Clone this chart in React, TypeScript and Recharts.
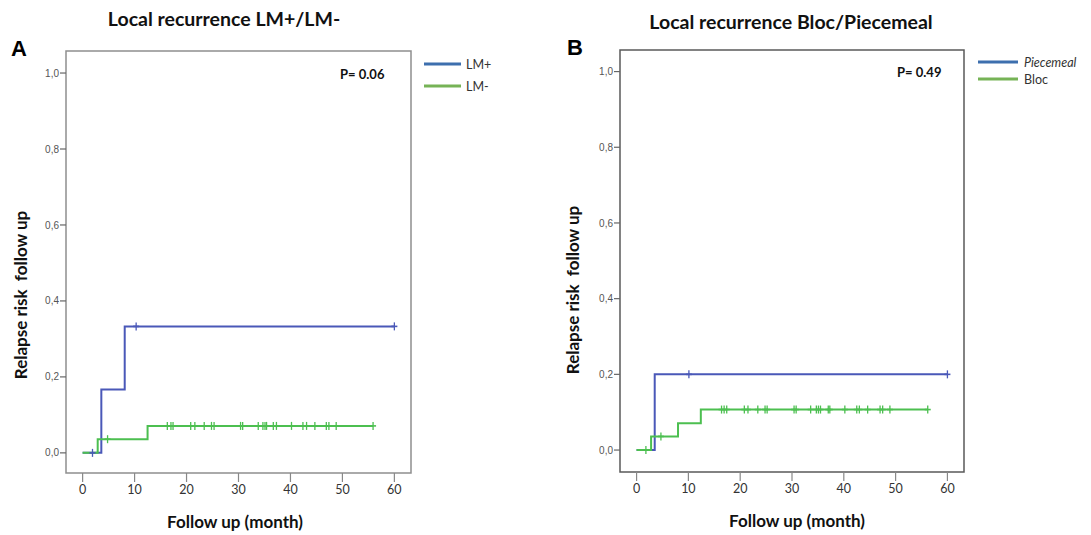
import React from "react";
import {
  ComposedChart,
  Line,
  Scatter,
  XAxis,
  YAxis,
  ReferenceArea,
} from "recharts";

// ---------- Panel A data ----------
const lmPlusTimes = [0, 3.6, 8.1, 60];
const lmPlusRisk = [0, 0.167, 0.333, 0.333];
const lmPlusCensor = [1.9, 10.3, 60];

const lmMinusTimes = [0, 2.9, 12.5, 55.9];
const lmMinusRisk = [0, 0.036, 0.071, 0.071];
const lmMinusCensor = [
  4.8, 16.3, 17.0, 17.4, 20.8, 21.6, 23.4, 24.8, 25.3, 30.4, 30.8, 33.8, 34.7,
  35.1, 35.4, 36.7, 37.3, 40.2, 42.4, 43.1, 44.7, 46.9, 47.4, 48.8, 55.9,
];

// ---------- Panel B data ----------
const piecemealTimes = [0, 3.5, 60];
const piecemealRisk = [0, 0.2, 0.2];
const piecemealCensor = [10.1, 60];

const blocTimes = [0, 2.8, 8.0, 12.4, 56.2];
const blocRisk = [0, 0.036, 0.071, 0.107, 0.107];
const blocCensor = [
  1.8, 4.7, 16.4, 16.9, 17.4, 20.8, 21.5, 23.4, 24.8, 25.2, 30.4, 30.8, 33.6,
  34.7, 35.1, 35.5, 37.0, 37.3, 40.2, 42.5, 43.0, 44.6, 47.0, 47.5, 48.9, 56.2,
];

// ---------- Axis ticks ----------
const xTicks = [0, 10, 20, 30, 40, 50, 60];
const yTicks = [0, 0.2, 0.4, 0.6, 0.8, 1.0];
const yTickLabels = ["0,0", "0,2", "0,4", "0,6", "0,8", "1,0"];

// ---------- Texts ----------
const titleA = "Local recurrence LM+/LM-";
const titleB = "Local recurrence Bloc/Piecemeal";
const pA = "P= 0.06";
const pB = "P= 0.49";
const legendA = ["LM+", "LM-"];
const legendB = ["Piecemeal", "Bloc"];
const yLabel = "Relapse risk\u00a0 follow up";
const xLabel = "Follow up (month)";

const FONT = "Lato, 'Open Sans', sans-serif";
const BLUE = "#4a58b8";
const GREEN = "#4cbf50";
const LEG_BLUE = "#3d6fae";
const LEG_GREEN = "#76b356";

function toSeries(times: number[], risks: number[]) {
  return times.map((t, i) => ({ t, r: risks[i] }));
}

function stepValue(times: number[], risks: number[], t: number) {
  let v = risks[0];
  for (let i = 0; i < times.length; i++) {
    if (times[i] <= t) v = risks[i];
  }
  return v;
}

function toCensor(censor: number[], times: number[], risks: number[]) {
  return censor.map((t) => ({ t, r: stepValue(times, risks, t) }));
}

const makePlus = (color: string) => (props: any) => {
  const { cx, cy } = props;
  if (cx == null || cy == null) return <g />;
  return (
    <g>
      <line x1={cx} y1={cy - 4} x2={cx} y2={cy + 4} stroke={color} strokeWidth={1.3} />
      <line x1={cx - 3} y1={cy} x2={cx + 3} y2={cy} stroke={color} strokeWidth={1.6} />
    </g>
  );
};

type PanelProps = {
  left: number;
  width: number;
  margin: { top: number; right: number; bottom: number; left: number };
  yDomain: [number, number];
  frameColor: string;
  series: {
    times: number[];
    risks: number[];
    censor: number[];
    color: string;
  }[];
};

const X_DOMAIN: [number, number] = [-3.2, 63.2];

function Panel({ left, width, margin, yDomain, frameColor, series }: PanelProps) {
  return (
    <div style={{ position: "absolute", left, top: 0 }}>
      <ComposedChart width={width} height={535} margin={margin}>
        <XAxis
          type="number"
          dataKey="t"
          domain={X_DOMAIN}
          ticks={xTicks}
          allowDataOverflow
          axisLine={false}
          tickLine={{ stroke: "#888", strokeWidth: 1.2 }}
          tickSize={9}
          tickMargin={3}
          height={30}
          tick={{ fill: "#333", fontSize: 12.5, fontFamily: FONT }}
          interval={0}
        />
        <YAxis
          type="number"
          dataKey="r"
          domain={yDomain}
          ticks={yTicks}
          allowDataOverflow
          axisLine={false}
          tickLine={{ stroke: "#666", strokeWidth: 1.2 }}
          tickSize={6}
          tickMargin={1}
          width={30}
          interval={0}
          tickFormatter={(v: number) => yTickLabels[yTicks.findIndex((y) => Math.abs(y - v) < 1e-6)] ?? ""}
          tick={{ fill: "#555", fontSize: 10, fontFamily: "'Liberation Sans', Arial, sans-serif" }}
        />
        <ReferenceArea
          x1={X_DOMAIN[0]}
          x2={X_DOMAIN[1]}
          y1={yDomain[0]}
          y2={yDomain[1]}
          fill="none"
          stroke={frameColor}
          strokeWidth={1.5}
          ifOverflow="visible"
        />
        {series.map((s, i) => (
          <Line
            key={"l" + i}
            data={toSeries(s.times, s.risks)}
            dataKey="r"
            type="stepAfter"
            stroke={s.color}
            strokeWidth={2}
            dot={false}
            activeDot={false}
            isAnimationActive={false}
          />
        ))}
        {series.map((s, i) => (
          <Scatter
            key={"s" + i}
            data={toCensor(s.censor, s.times, s.risks)}
            dataKey="r"
            shape={makePlus(s.color)}
            isAnimationActive={false}
          />
        ))}
      </ComposedChart>
    </div>
  );
}

export default function App() {
  return (
    <div
      style={{
        position: "absolute",
        left: 0,
        top: 0,
        width: 1091,
        height: 535,
        background: "#fff",
        overflow: "hidden",
      }}
    >
      <Panel
        left={0}
        width={540}
        margin={{ top: 51, right: 129, bottom: 32, left: 36 }}
        yDomain={[-0.053, 1.058]}
        frameColor="#8f8f8f"
        series={[
          { times: lmPlusTimes, risks: lmPlusRisk, censor: lmPlusCensor, color: BLUE },
          { times: lmMinusTimes, risks: lmMinusRisk, censor: lmMinusCensor, color: GREEN },
        ]}
      />
      <Panel
        left={540}
        width={551}
        margin={{ top: 50, right: 127, bottom: 33, left: 50 }}
        yDomain={[-0.058, 1.057]}
        frameColor="#5a5a5a"
        series={[
          { times: piecemealTimes, risks: piecemealRisk, censor: piecemealCensor, color: BLUE },
          { times: blocTimes, risks: blocRisk, censor: blocCensor, color: GREEN },
        ]}
      />
      <svg
        width={1091}
        height={535}
        style={{ position: "absolute", left: 0, top: 0, pointerEvents: "none" }}
      >
        {/* Titles */}
        <text x={224} y={18} textAnchor="middle" dominantBaseline="central" fontFamily={FONT} fontWeight={700} fontSize={19.5} fill="#111">
          {titleA}
        </text>
        <text x={791} y={21} textAnchor="middle" dominantBaseline="central" fontFamily={FONT} fontWeight={700} fontSize={19.5} fill="#111">
          {titleB}
        </text>
        {/* Panel letters */}
        <text x={11} y={48} dominantBaseline="central" fontFamily="'Liberation Sans', Arial, sans-serif" fontWeight={700} fontSize={22} fill="#000">
          A
        </text>
        <text x={567} y={47} dominantBaseline="central" fontFamily="'Liberation Sans', Arial, sans-serif" fontWeight={700} fontSize={22} fill="#000">
          B
        </text>
        {/* P values */}
        <text x={340} y={74} dominantBaseline="central" fontFamily={FONT} fontWeight={700} fontSize={13} fill="#111">
          {pA}
        </text>
        <text x={897} y={72} dominantBaseline="central" fontFamily={FONT} fontWeight={700} fontSize={13} fill="#111">
          {pB}
        </text>
        {/* Legend A */}
        <line x1={424} y1={64} x2={461} y2={64} stroke={LEG_BLUE} strokeWidth={3} />
        <text x={466} y={64} dominantBaseline="central" fontFamily={FONT} fontSize={12.5} fill="#333">
          {legendA[0]}
        </text>
        <line x1={424} y1={86} x2={461} y2={86} stroke={LEG_GREEN} strokeWidth={3} />
        <text x={466} y={86} dominantBaseline="central" fontFamily={FONT} fontSize={12.5} fill="#333">
          {legendA[1]}
        </text>
        {/* Legend B */}
        <line x1={978} y1={62} x2={1018} y2={62} stroke={LEG_BLUE} strokeWidth={3} />
        <text x={1024} y={62} dominantBaseline="central" fontFamily={FONT} fontStyle="italic" fontSize={12.5} fill="#333">
          {legendB[0]}
        </text>
        <line x1={978} y1={79} x2={1018} y2={79} stroke={LEG_GREEN} strokeWidth={3} />
        <text x={1024} y={79} dominantBaseline="central" fontFamily={FONT} fontSize={12.5} fill="#333">
          {legendB[1]}
        </text>
        {/* Y labels */}
        <text transform="translate(20,295) rotate(-90)" textAnchor="middle" dominantBaseline="central" fontFamily={FONT} fontWeight={700} fontSize={17} fill="#111">
          {yLabel}
        </text>
        <text transform="translate(572,290) rotate(-90)" textAnchor="middle" dominantBaseline="central" fontFamily={FONT} fontWeight={700} fontSize={17} fill="#111">
          {yLabel}
        </text>
        {/* X labels */}
        <text x={235} y={521} textAnchor="middle" dominantBaseline="central" fontFamily={FONT} fontWeight={700} fontSize={17} fill="#111">
          {xLabel}
        </text>
        <text x={797} y={520} textAnchor="middle" dominantBaseline="central" fontFamily={FONT} fontWeight={700} fontSize={17} fill="#111">
          {xLabel}
        </text>
      </svg>
    </div>
  );
}
